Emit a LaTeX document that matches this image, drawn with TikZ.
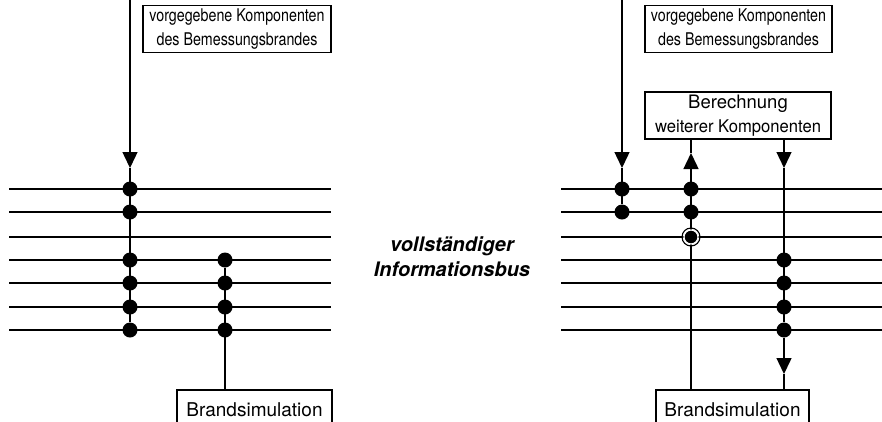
\documentclass[tikz,border=0pt]{standalone}
\usepackage{fontspec}
\setmainfont{TeX Gyre Heros}
\newfontfamily\narrowfont[FakeStretch=0.815]{TeX Gyre Heros}
\newfontfamily\slimfont[FakeStretch=0.95]{TeX Gyre Heros}
\usetikzlibrary{arrows.meta}
\begin{document}
\begin{tikzpicture}[x=1pt,y=-1pt,
  bus/.style={line width=1.4pt},
  wire/.style={line width=1.4pt},
  tip/.style={-{Triangle[width=15pt,length=16pt]}},
  dot/.style={circle,fill=black,inner sep=0pt,minimum size=15pt},
  labelbox/.style={draw,line width=1.2pt,align=center,inner sep=0pt,
    font=\fontsize{19}{24}\selectfont},
  narrowbox/.style={labelbox,font=\fontsize{17.5}{24}\narrowfont},
  calcbox/.style={labelbox,font=\fontsize{17.5}{24}\selectfont},
  busname/.style={align=center,font=\fontsize{20}{25}\selectfont\bfseries\itshape}]
\useasboundingbox (0,0) rectangle (882,421);
\begin{scope}
\clip (0,0) rectangle (882,421);

% bus lines, left and right
\foreach \y in {189,212,237,260,283,307,330}{
  \draw[bus] (9,\y) -- (331,\y);
  \draw[bus] (561,\y) -- (882,\y);
}

% boxes
\node[narrowbox,minimum width=188pt,minimum height=47pt] (givenL) at (237,29)
  {vorgegebene Komponenten\\des Bemessungsbrandes};
\node[narrowbox,minimum width=187pt,minimum height=47pt] (givenR) at (738.5,29)
  {vorgegebene Komponenten\\des Bemessungsbrandes};
\node[calcbox,minimum width=186pt,minimum height=47pt] (calc) at (738,115.5)
  {{\fontsize{18.5}{24}\selectfont Berechnung}\\{\slimfont weiterer Komponenten}};
\node[labelbox,minimum width=155pt,minimum height=40pt] (simL) at (254.5,410)
  {Brandsimulation};
\node[labelbox,minimum width=153pt,minimum height=40pt] (simR) at (732.5,410)
  {Brandsimulation};

\node[busname] (bus) at (452,257) {vollständiger\\Informationsbus};

% left: fixed components feed all-but-one lines
\coordinate (inL) at (130,0);
\coordinate (arrL) at (130,168);
\foreach \n/\y in {a/189,b/212,c/260,d/283,e/307,f/330}
  \node[dot] (l1\n) at (130,\y) {};
\draw[wire,tip] (inL) -- (arrL);
\draw[wire] (arrL) -- (l1f);

% left: fire simulation reads the lower lines
\foreach \n/\y in {a/260,b/283,c/307,d/330}
  \node[dot] (l2\n) at (225,\y) {};
\draw[wire] (l2a) -- (l2d |- simL.north);

% right: fixed components feed the top two lines
\coordinate (inR) at (622,0);
\coordinate (arrR) at (622,168);
\node[dot] (r1a) at (622,189) {};
\node[dot] (r1b) at (622,212) {};
\draw[wire,tip] (inR) -- (arrR);
\draw[wire] (arrR) -- (r1b);

% right: calculation reads the upper lines
\node[dot] (r2a) at (691,189) {};
\node[dot] (r2b) at (691,212) {};
\coordinate (r2bot) at (691,390);
\coordinate (r2tip) at (691,153);
\draw[wire,tip] (r2bot) -- (r2tip);
\draw[wire] (r2tip) -- (r2tip |- calc.south);
\node[circle,fill=black,inner sep=0pt,minimum size=14pt,
  draw=white,line width=1.2pt] (r2c) at (691,237) {};
\draw[line width=1.1pt] (r2c.center) circle (9pt);

% right: calculation writes the lower lines
\coordinate (r3top) at (784,139);
\coordinate (r3tip) at (784,168);
\coordinate (r3low) at (784,374);
\foreach \n/\y in {a/260,b/283,c/307,d/330}
  \node[dot] (r3\n) at (784,\y) {};
\draw[wire,tip] (r3top) -- (r3tip);
\draw[wire] (r3tip) -- (r3d);
\draw[wire,tip] (r3d) -- (r3low);
\draw[wire] (r3low) -- (r3low |- simR.north);
\end{scope}
\end{tikzpicture}
\end{document}
